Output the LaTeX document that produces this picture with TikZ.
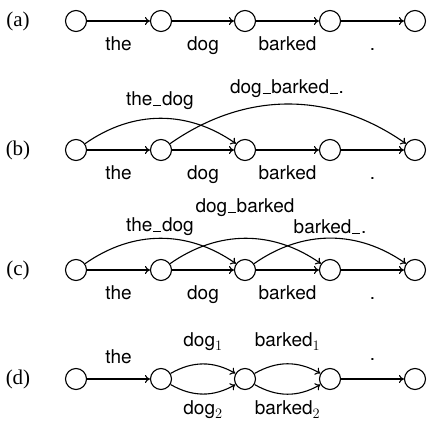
\documentclass[tikz,border=0pt]{standalone}
\usepackage{fontspec}
\usetikzlibrary{arrows.meta}
\setmainfont{Liberation Serif}
\newfontfamily\lblfont{TeX Gyre Heros}
\newcommand{\us}{\kern0.04em\rule[-0.3pt]{0.42em}{1.1pt}\kern0.04em}
\begin{document}
\begin{tikzpicture}[x=1pt,y=1pt,
  st/.style={circle,draw,line width=1.1pt,minimum size=21pt,inner sep=0pt},
  arr/.style={-{To[length=5pt,width=8pt]},line width=1.1pt},
  lbl/.style={font=\lblfont\fontsize{19}{22}\selectfont,inner sep=0pt,anchor=base},
  rowlbl/.style={font=\fontsize{21}{24}\selectfont,inner sep=0pt}]
\useasboundingbox (0,0) rectangle (432,426);
% row labels
\node[rowlbl] (la) at (18,405) {(a)};
\node[rowlbl] (lb) at (18,276) {(b)};
\node[rowlbl] (lc) at (18,156) {(c)};
\node[rowlbl] (ld) at (18,47) {(d)};
% nodes
\foreach \r/\y in {a/405,b/276,c/156,d/47}{
  \node[st] (\r1) at (76,\y) {};
  \node[st] (\r2) at (161,\y) {};
  \node[st] (\r3) at (245,\y) {};
  \node[st] (\r4) at (330,\y) {};
  \node[st] (\r5) at (415,\y) {};
}
% row a
\draw[arr] (a1) -- (a2);
\draw[arr] (a2) -- (a3);
\draw[arr] (a3) -- (a4);
\draw[arr] (a4) -- (a5);
\node[lbl] (ta1) at (118.5,375) {the};
\node[lbl] (ta2) at (203,375) {dog};
\node[lbl] (ta3) at (287.5,375) {barked};
\node[lbl] (ta4) at (372.5,375) {.};
% row b
\draw[arr] (b1) -- (b2);
\draw[arr] (b2) -- (b3);
\draw[arr] (b3) -- (b4);
\draw[arr] (b4) -- (b5);
\draw[arr] (b1) to[bend left=35] (b3);
\draw[arr] (b2) to[bend left=35] (b5);
\node[lbl] (tb1) at (118.5,246) {the};
\node[lbl] (tb2) at (203,246) {dog};
\node[lbl] (tb3) at (287.5,246) {barked};
\node[lbl] (tb4) at (372.5,246) {.};
\node[lbl] (tb5) at (160,320) {the\us dog};
\node[lbl] (tb6) at (287,332) {dog\us barked\us .};
% row c
\draw[arr] (c1) -- (c2);
\draw[arr] (c2) -- (c3);
\draw[arr] (c3) -- (c4);
\draw[arr] (c4) -- (c5);
\draw[arr] (c1) to[bend left=35] (c3);
\draw[arr] (c2) to[bend left=35] (c4);
\draw[arr] (c3) to[bend left=35] (c5);
\node[lbl] (tc1) at (118.5,126) {the};
\node[lbl] (tc2) at (203,126) {dog};
\node[lbl] (tc3) at (287.5,126) {barked};
\node[lbl] (tc4) at (372.5,126) {.};
\node[lbl] (tc5) at (160,194) {the\us dog};
\node[lbl] (tc6) at (245,213) {dog\us barked};
\node[lbl] (tc7) at (330,192) {barked\us .};
% row d
\draw[arr] (d1) -- (d2);
\draw[arr] (d2) to[bend left=30] (d3);
\draw[arr] (d2) to[bend right=30] (d3);
\draw[arr] (d3) to[bend left=30] (d4);
\draw[arr] (d3) to[bend right=30] (d4);
\draw[arr] (d4) -- (d5);
\node[lbl] (td1) at (118.5,62) {the};
\node[lbl] (td2) at (203,79) {dog$_1$};
\node[lbl] (td3) at (287.5,79) {barked$_1$};
\node[lbl] (td4) at (372.5,65) {.};
\node[lbl] (td5) at (203,11) {dog$_2$};
\node[lbl] (td6) at (287.5,11) {barked$_2$};
\end{tikzpicture}
\end{document}
